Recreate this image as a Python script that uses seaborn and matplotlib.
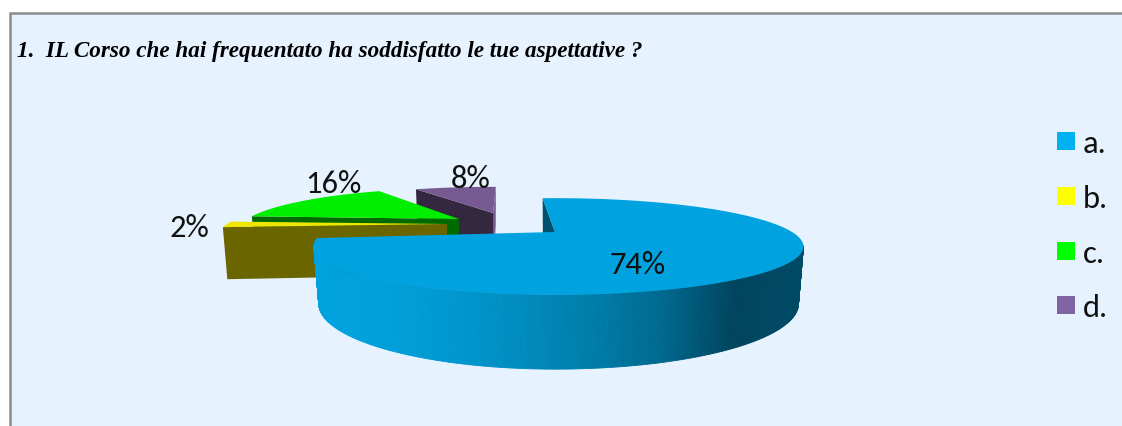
import numpy as np
import matplotlib
matplotlib.use("Agg")
import matplotlib.pyplot as plt
from matplotlib.patches import Polygon, Rectangle
import seaborn as sns

# ---- data ----
categories = ["a.", "b.", "c.", "d."]
percentages = [74, 2, 16, 8]
title_text = "1.  IL Corso che hai frequentato ha soddisfatto le tue aspettative ?"

# ---- style ----
legend_colors = ["#00B0F0", "#FFFF00", "#00FF00", "#8064A2"]
top_colors = ["#00A2E0", "#EEE600", "#00EE00", "#775A92"]
wall_colors = ["#00506F", "#6B6500", "#006A00", "#33283F"]
apexes = [(555, 233), (447, 225), (459, 220), (493, 214)]
radii_left = [230, 220, 212, 209]
radii_right = [237, 220, 212, 209]
radii_y = [44, 44, 40, 34]
heights = [52, 51, 51, 51]
angle_shift = [1.0, -2.6, -3.4, -4.0]
label_xy = [(638, 265), (189, 228), (333, 184), (471, 179)]
legend_y = [142, 197, 252, 306]
shade_stops = ["#00A3DE", "#00A0DA", "#0097CE", "#008BBD", "#007CA8", "#00688D", "#00445E", "#004A66"]
persp = 0.3
start_angle = 93.0

sns.set_theme(style="white", rc={"axes.grid": False})
plt.rcParams["font.family"] = ["Carlito", "Lato", "DejaVu Sans"]

fig = plt.figure(figsize=(11.22, 4.27), dpi=100, facecolor="white")
ax = fig.add_axes([0, 0, 1, 1])
ax.set_xlim(0, 1122)
ax.set_ylim(427, 0)
ax.axis("off")

ax.add_patch(Rectangle((10, 14), 1200, 430, facecolor="#E7F2FF",
                       edgecolor="#8C8C8C", linewidth=1.8, zorder=0))


def project(i, theta_deg, depth=0.0):
    t = np.radians(theta_deg + angle_shift[i])
    f = 1.0 / (1.0 + persp * np.sin(t))
    shrink = 1.0 - 0.02 * (depth > 0)
    c = np.cos(t)
    r = radii_left[i] if c < 0 else radii_right[i]
    x = apexes[i][0] + r * shrink * c * f
    y = apexes[i][1] - radii_y[i] * np.sin(t) * f + depth * f
    return np.array([[x, y]])


def apex_pt(i, depth=0.0):
    return np.array([[apexes[i][0], apexes[i][1] + depth]])


fractions = np.array(percentages) / sum(percentages) * 360.0
ends = start_angle - np.cumsum(fractions)
starts = ends + fractions
shades = sns.blend_palette(shade_stops, 256)

# rear slices first, main slice last
for z, i in enumerate([3, 2, 1, 0]):
    zb = 2 + z * 4
    h = heights[i]
    th = np.linspace(starts[i], ends[i], 200)
    if i == 3:
        # light end wall of the rear slice
        pe, peb = project(i, ends[i]), project(i, ends[i], h)
        ax.add_patch(Polygon(np.vstack([apex_pt(i), pe, peb, apex_pt(i, h)]),
                             closed=True, fc=top_colors[i], ec="none", zorder=zb))
    # dark flat wall on the slice's starting edge
    ps, psb = project(i, starts[i]), project(i, starts[i], h)
    ax.add_patch(Polygon(np.vstack([apex_pt(i), ps, psb, apex_pt(i, h)]),
                         closed=True, fc=wall_colors[i], ec="none", zorder=zb + 1))
    if i == 0:
        # curved outer wall, shaded left to right
        arc = np.linspace(ends[i], -17.5, 260)
        xs = [project(i, a)[0, 0] for a in arc]
        for k in range(len(arc) - 1):
            a, b = project(i, arc[k]), project(i, arc[k + 1])
            ab, bb = project(i, arc[k], h), project(i, arc[k + 1], h)
            pos = (xs[k] - min(xs)) / (max(xs) - min(xs))
            col = shades[int(pos * 255)]
            ax.add_patch(Polygon(np.vstack([a, b, bb, ab]), closed=True,
                                 fc=col, ec=col, lw=0.6, zorder=zb + 2))
    # top face
    top = np.vstack([apex_pt(i)] + [project(i, a) for a in th])
    ax.add_patch(Polygon(top, closed=True, fc=top_colors[i], ec="none", zorder=zb + 3))

for v, (x, y) in zip(percentages, label_xy):
    ax.text(x, y, f"{v}%", ha="center", va="center", fontsize=23.5, color="#111111", zorder=30)

for cat, col, y in zip(categories, legend_colors, legend_y):
    ax.add_patch(Rectangle((1057, y - 9), 18, 18, fc=col, ec="none", zorder=30))
    ax.text(1083, y + 2, cat, ha="left", va="center", fontsize=23.5, color="#111111", zorder=30)

ax.text(17, 51, title_text, ha="left", va="center", fontsize=16.7,
        family="Liberation Serif", style="italic", weight="bold", color="black", zorder=30)

fig.savefig("out.png", dpi=100)
